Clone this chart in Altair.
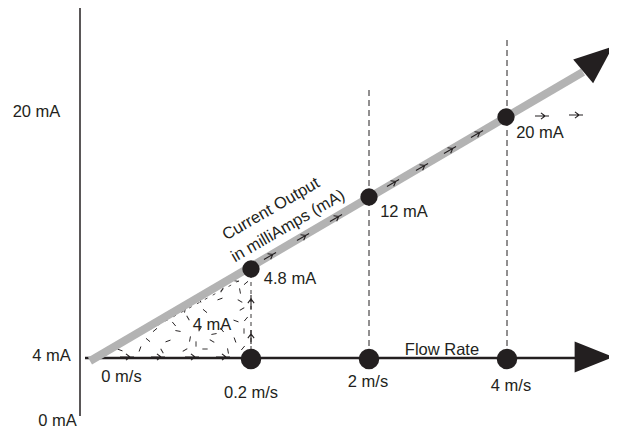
import altair as alt
import pandas as pd

FONT = "Liberation Sans"
INK = "#231f20"

# ---- diagram data (diagram units) ----
axis_x = [80]; axis_y0 = [8]; axis_y1 = [416]
flow_line = {"x": [85], "y": [358], "x2": [575], "y2": [358]}
signal_line = {"x": [90], "y": [361], "x2": [583], "y2": [72]}
guide_x = [369, 507]
guide_top = [90, 40]
guide_bottom = [358, 358]
rise_x = [251]; rise_y0 = [358]; rise_y1 = [271]

flow_dots_x = [251, 369, 507]
flow_dots_y = [359, 359, 359]
signal_dots_x = [251, 369, 506]
signal_dots_y = [269, 197, 117]

heads_x = [594, 598]
heads_y = [357, 59]
heads_angle = [0, 320]

# small direction arrows
arr_x = [127, 158, 192, 223, 270, 303, 336, 393, 422, 450, 477, 542, 576, 251, 251]
arr_y = [357, 357, 357, 357, 256, 237, 218, 183, 167, 150, 134, 116, 115, 302, 337]
arr_angle = [0, 0, 0, 0, 330, 330, 330, 330, 330, 330, 330, 0, 0, 270, 270]

# dashed edge under the signal line inside the 4 mA triangle
edge_x = [118]; edge_y = [347]; edge_x2 = [244]; edge_y2 = [278]

# short texture strokes scattered inside the 4 mA triangle
tex_x = [120, 140, 162, 185, 205, 228, 243,
         148, 168, 190, 212, 235,
         155, 178, 200, 222, 244,
         165, 188, 236, 246,
         185, 205, 242,
         200, 220, 240,
         222, 240, 236, 246, 174, 214, 196]
tex_y = [350, 349, 351, 350, 349, 351, 348,
         340, 341, 339, 341, 340,
         330, 331, 329, 330, 331,
         320, 318, 321, 319,
         310, 311, 309,
         300, 299, 301,
         290, 291, 281, 283, 324, 334, 344]
tex_a = [20, 110, 60, 150, 0, 80, 130,
         40, 160, 100, 30, 70,
         140, 10, 120, 50, 90,
         170, 60, 20, 130,
         100, 40, 150,
         70, 160, 30,
         120, 80, 10, 140, 50, 170, 90]

lab_text = ["20 mA", "4 mA", "0 mA", "0 m/s", "0.2 m/s", "2 m/s", "4 m/s",
            "Flow Rate", "4.8 mA", "12 mA", "20 mA", "4 mA",
            "Current Output", "in milliAmps (mA)"]
lab_x = [36.5, 51.5, 57.5, 121.5, 251, 368, 511, 442, 290, 404, 540, 212, 271, 288]
lab_y = [112, 356, 421, 377, 393, 382, 386, 350, 279, 212, 133, 325, 209, 226]
lab_angle = [0] * 12 + [330, 330]

xs = alt.Scale(domain=[8, 609], nice=False, zero=False)
ys = alt.Scale(domain=[8, 428], nice=False, zero=False, reverse=True)
X = lambda f: alt.X(f, type="quantitative", scale=xs, axis=None)
Y = lambda f: alt.Y(f, type="quantitative", scale=ys, axis=None)

axis = alt.Chart(pd.DataFrame({"x": axis_x, "y": axis_y0, "y2": axis_y1})).mark_rule(
    color=INK, strokeWidth=1.5).encode(x=X("x"), y=Y("y"), y2="y2")

gray = alt.Chart(pd.DataFrame(signal_line)).mark_rule(
    color="#b3b3b3", strokeWidth=8, strokeCap="butt").encode(x=X("x"), y=Y("y"), x2="x2", y2="y2")

flow = alt.Chart(pd.DataFrame(flow_line)).mark_rule(
    color=INK, strokeWidth=2.5).encode(x=X("x"), y=Y("y"), x2="x2", y2="y2")

guides = alt.Chart(pd.DataFrame({"x": guide_x, "y": guide_top, "y2": guide_bottom})).mark_rule(
    color=INK, strokeWidth=1, strokeDash=[6, 4]).encode(x=X("x"), y=Y("y"), y2="y2")

rise = alt.Chart(pd.DataFrame({"x": rise_x, "y": rise_y0, "y2": rise_y1})).mark_rule(
    color=INK, strokeWidth=0.9, strokeDash=[4, 4]).encode(x=X("x"), y=Y("y"), y2="y2")

edge = alt.Chart(pd.DataFrame({"x": edge_x, "y": edge_y, "x2": edge_x2, "y2": edge_y2})).mark_rule(
    color=INK, strokeWidth=0.8, strokeDash=[3, 6]).encode(x=X("x"), y=Y("y"), x2="x2", y2="y2")

texture = alt.Chart(pd.DataFrame({"x": tex_x, "y": tex_y, "a": tex_a})).mark_point(
    shape="M-1,0L1,0", filled=False, color=INK, strokeWidth=0.9, size=28, opacity=1).encode(
    x=X("x"), y=Y("y"), angle=alt.Angle("a:Q", scale=None))

arrows = alt.Chart(pd.DataFrame({"x": arr_x, "y": arr_y, "a": arr_angle})).mark_point(
    shape="M-1,0L1,0M-0.15,-0.45L0.45,0L-0.15,0.45", filled=False, color=INK,
    strokeWidth=1.1, size=196, opacity=1).encode(
    x=X("x"), y=Y("y"), angle=alt.Angle("a:Q", scale=None))

fdots = alt.Chart(pd.DataFrame({"x": flow_dots_x, "y": flow_dots_y})).mark_point(
    shape="circle", filled=True, color=INK, size=420, opacity=1).encode(x=X("x"), y=Y("y"))

sdots = alt.Chart(pd.DataFrame({"x": signal_dots_x, "y": signal_dots_y})).mark_point(
    shape="circle", filled=True, color=INK, size=300, opacity=1).encode(x=X("x"), y=Y("y"))

heads = alt.Chart(pd.DataFrame({"x": heads_x, "y": heads_y, "a": heads_angle})).mark_point(
    shape="M-1,-0.8L1,0L-1,0.8Z", filled=True, color=INK, size=1500, opacity=1).encode(
    x=X("x"), y=Y("y"), angle=alt.Angle("a:Q", scale=None))

labels = alt.Chart(pd.DataFrame({"t": lab_text, "x": lab_x, "y": lab_y, "a": lab_angle})).mark_text(
    font=FONT, fontSize=16.5, color=INK, align="center", baseline="middle").encode(
    x=X("x"), y=Y("y"), text="t:N", angle=alt.Angle("a:Q", scale=None))

chart = alt.layer(axis, texture, edge, rise, guides, flow, gray, arrows, fdots, sdots, heads, labels).properties(
    width=601, height=420, padding=0, autosize="none"
).configure_view(stroke=None)

chart.save("out.html", embed_options={"renderer": "svg", "actions": False})
